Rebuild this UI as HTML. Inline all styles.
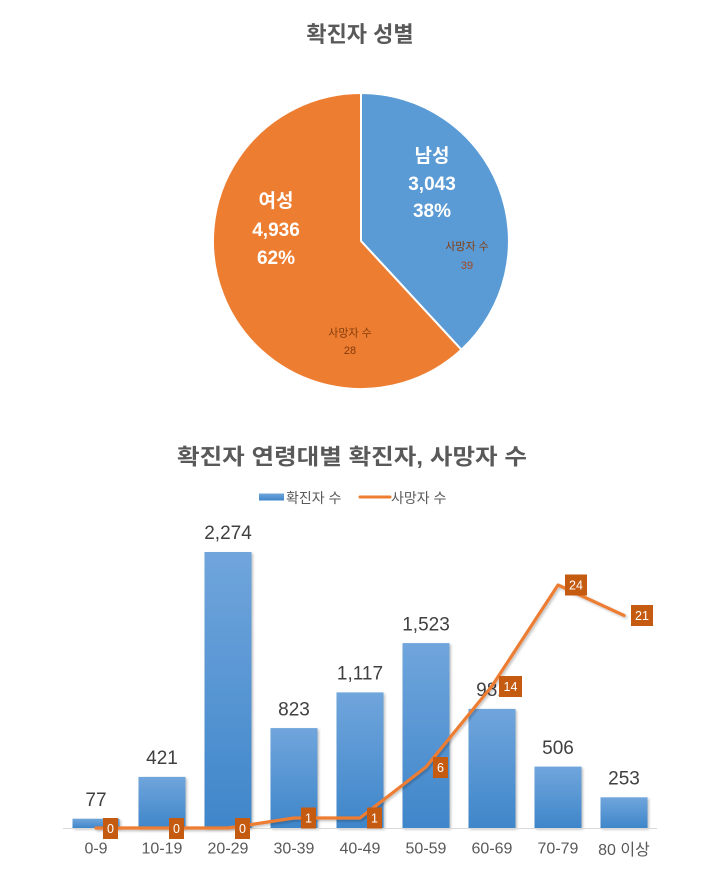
<!DOCTYPE html>
<html><head><meta charset="utf-8">
<style>
html,body{margin:0;padding:0;background:#fff;}
svg{display:block;}
text{font-family:"Liberation Sans","Noto Sans CJK KR","NanumGothic",sans-serif;}
</style></head>
<body>
<svg width="713" height="873" viewBox="0 0 713 873" xmlns="http://www.w3.org/2000/svg">
<defs>
<linearGradient id="bg" x1="0" y1="0" x2="0" y2="1">
<stop offset="0" stop-color="#70a5dc"/>
<stop offset="1" stop-color="#3f86ca"/>
</linearGradient>
<filter id="sh" x="-20%" y="-20%" width="140%" height="140%">
<feDropShadow dx="1.5" dy="1.5" stdDeviation="1.2" flood-color="#000" flood-opacity="0.25"/>
</filter>
</defs>

<!-- Pie title -->
<text x="360" y="42" text-anchor="middle" font-size="22" font-weight="bold" fill="#595959">확진자 성별</text>

<!-- Pie -->
<path d="M361,241 L361,93 A148,148 0 0,1 461.4,349.7 Z" fill="#5b9bd5" stroke="#fff" stroke-width="2"/>
<path d="M361,241 L461.4,349.7 A148,148 0 1,1 361,93 Z" fill="#ed7d31" stroke="#fff" stroke-width="2"/>

<g font-weight="bold" font-size="19" fill="#fff" text-anchor="middle">
<text x="432" y="162">남성</text>
<text x="432" y="190">3,043</text>
<text x="432" y="217">38%</text>
<text x="276" y="207">여성</text>
<text x="276" y="236">4,936</text>
<text x="276" y="264">62%</text>
</g>
<g font-size="11" fill="#843c0c" text-anchor="middle">
<text x="467" y="250">사망자 수</text>
<text x="467" y="269" fill="#a5461a">39</text>
<text x="350" y="336.5">사망자 수</text>
<text x="350" y="354">28</text>
</g>

<!-- Bar chart title -->
<text x="352" y="464.5" text-anchor="middle" font-size="22" font-weight="bold" fill="#595959" textLength="350" lengthAdjust="spacingAndGlyphs">확진자 연령대별 확진자, 사망자 수</text>

<!-- Legend -->
<rect x="259" y="493.5" width="25" height="7" fill="url(#bg)"/>
<text x="286" y="503" font-size="14" fill="#595959">확진자 수</text>
<line x1="360" y1="497" x2="390" y2="497" stroke="#ed7d31" stroke-width="3" stroke-linecap="round"/>
<text x="391" y="503" font-size="14" fill="#595959">사망자 수</text>

<!-- Bars -->
<g fill="url(#bg)" filter="url(#sh)">
<rect x="72.5" y="818.7" width="47" height="9.3"/>
<rect x="138.5" y="776.9" width="47" height="51.1"/>
<rect x="204.5" y="552" width="47" height="276"/>
<rect x="270.5" y="728.1" width="47" height="99.9"/>
<rect x="336.5" y="692.4" width="47" height="135.6"/>
<rect x="402.5" y="643.1" width="47" height="184.9"/>
<rect x="468.5" y="708.9" width="47" height="119.1"/>
<rect x="534.5" y="766.6" width="47" height="61.4"/>
<rect x="600.5" y="797.3" width="47" height="30.7"/>
</g>

<!-- Axis -->
<line x1="63" y1="828.5" x2="657" y2="828.5" stroke="#d9d9d9" stroke-width="1"/>

<!-- Bar labels -->
<g font-size="19" fill="#404040" text-anchor="middle">
<text x="96" y="806">77</text>
<text x="162" y="764">421</text>
<text x="228" y="539.2">2,274</text>
<text x="294" y="715.3">823</text>
<text x="360" y="679.6">1,117</text>
<text x="426" y="630.3">1,523</text>
<text x="492" y="696.1">981</text>
<text x="558" y="753.8">506</text>
<text x="624" y="784.5">253</text>
</g>

<!-- Line -->
<polyline points="96,828 162,828 228,828 294,818 360,818 426,767 492,686 558,585 624,615.4" fill="none" stroke="#ed7d31" stroke-width="3.2" stroke-linejoin="round" stroke-linecap="round" filter="url(#sh)"/>

<!-- Line labels -->
<g fill="#c55a11">
<rect x="103" y="818" width="15" height="21"/>
<rect x="169" y="818" width="15" height="21"/>
<rect x="235" y="818" width="15" height="21"/>
<rect x="301" y="807.5" width="15" height="21"/>
<rect x="367" y="807.5" width="15" height="21"/>
<rect x="433" y="757" width="15" height="21"/>
<rect x="499" y="676" width="23" height="21"/>
<rect x="565" y="574.5" width="22" height="21"/>
<rect x="631" y="605" width="22" height="21"/>
</g>
<g font-size="12.5" fill="#fff" text-anchor="middle">
<text x="110.5" y="833">0</text>
<text x="176.5" y="833">0</text>
<text x="242.5" y="833">0</text>
<text x="308.5" y="822.5">1</text>
<text x="374.5" y="822.5">1</text>
<text x="440.5" y="772">6</text>
<text x="510.5" y="691">14</text>
<text x="576" y="589.5">24</text>
<text x="642" y="620">21</text>
</g>

<!-- X axis labels -->
<g font-size="16" fill="#595959" text-anchor="middle">
<text x="96" y="853.5">0-9</text>
<text x="162" y="853.5">10-19</text>
<text x="228" y="853.5">20-29</text>
<text x="294" y="853.5">30-39</text>
<text x="360" y="853.5">40-49</text>
<text x="426" y="853.5">50-59</text>
<text x="492" y="853.5">60-69</text>
<text x="558" y="853.5">70-79</text>
<text x="624" y="855">80 이상</text>
</g>
</svg>
</body></html>
